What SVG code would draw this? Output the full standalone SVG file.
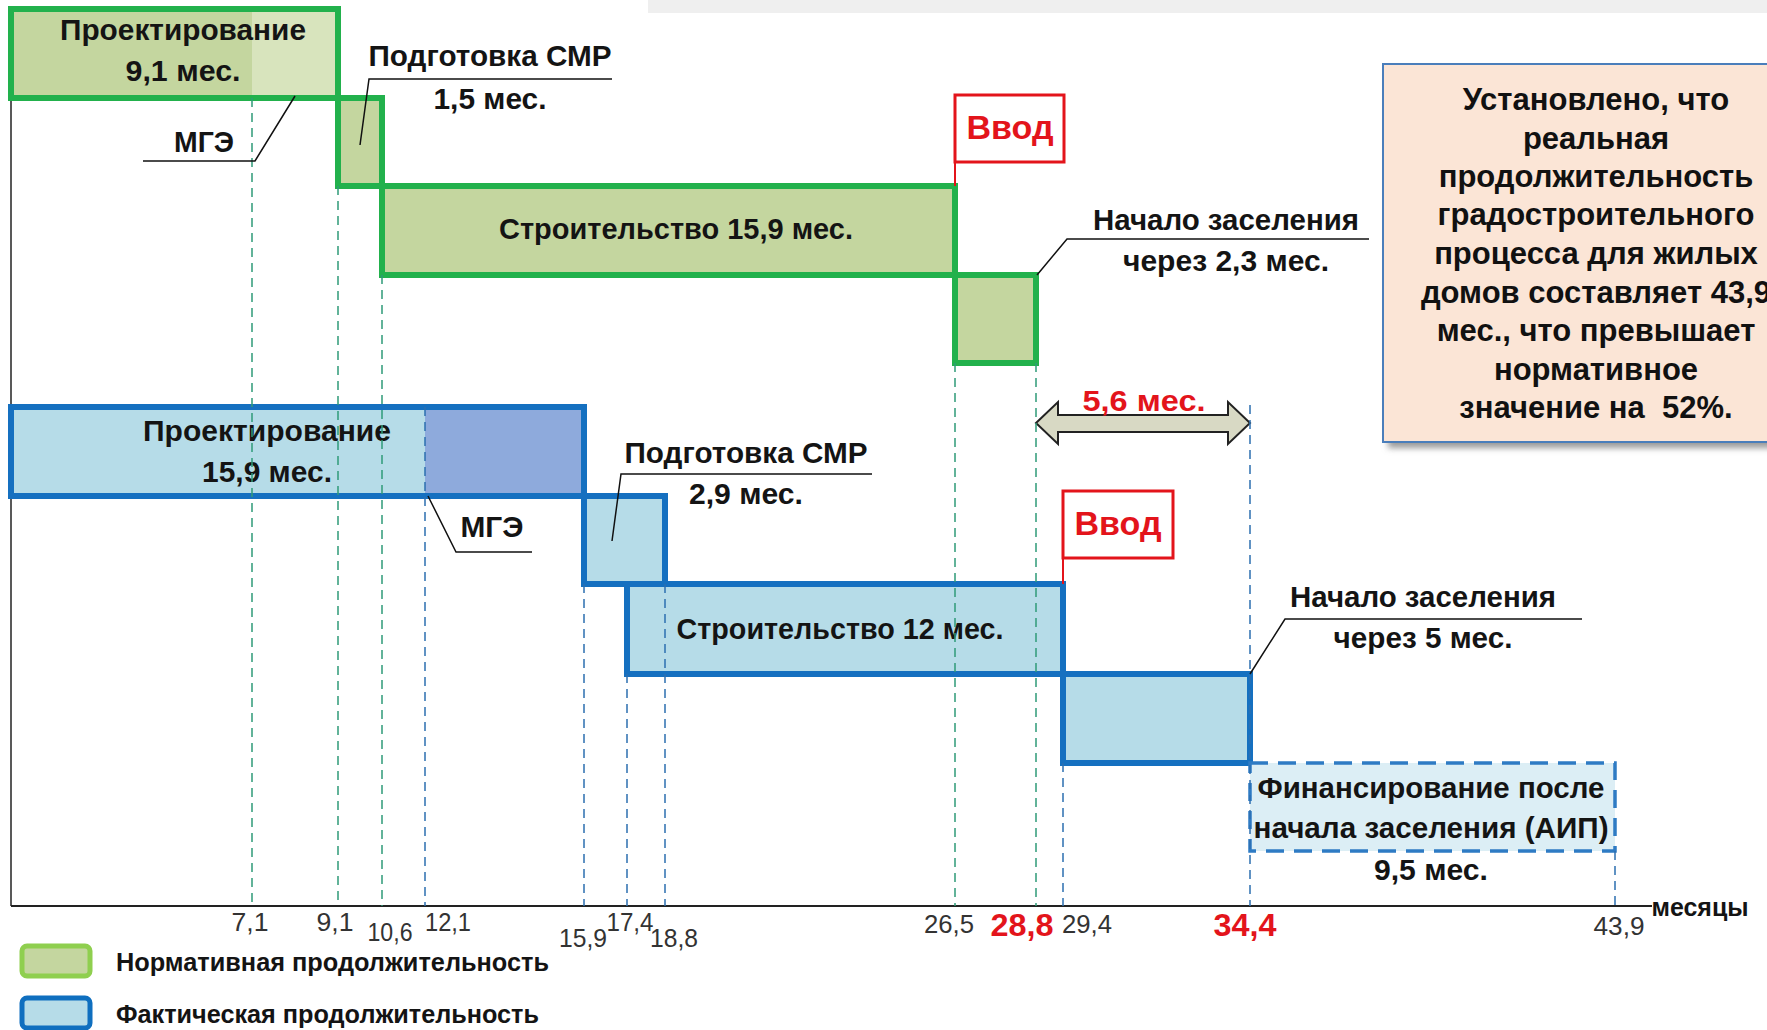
<svg xmlns="http://www.w3.org/2000/svg" width="1767" height="1030" viewBox="0 0 1767 1030">
<style>
.lb{font-family:"Liberation Sans",Arial,sans-serif;font-weight:bold;font-size:30px;fill:#141414;text-anchor:middle}
.red{fill:#e3141b}
.vv{font-size:34px}
.ax{font-family:"Liberation Sans",Arial,sans-serif;font-size:26px;fill:#333;text-anchor:middle}
.axr{font-family:"Liberation Sans",Arial,sans-serif;font-weight:bold;font-size:32px;fill:#e3141b;text-anchor:middle}
.info{font-family:"Liberation Sans",Arial,sans-serif;font-weight:bold;font-size:31px;fill:#111;text-anchor:middle}
.leg{font-family:"Liberation Sans",Arial,sans-serif;font-weight:bold;font-size:25px;fill:#141414}
.gf{fill:#c4d69f;stroke:none}
.gs{fill:none;stroke:#22b14c;stroke-width:6}
.bf{fill:#b6dce8;stroke:none}
.bs{fill:none;stroke:#1570c0;stroke-width:6}
.vb{fill:#fff;stroke:#e3141b;stroke-width:3}
.ld{fill:none;stroke:#111;stroke-width:1.5}
.dg{stroke:#2f9a78;stroke-width:1.5;stroke-dasharray:9 6}
.db{stroke:#2d6fb0;stroke-width:1.5;stroke-dasharray:9 6}
</style>
<defs>
<filter id="sh" x="-10%" y="-10%" width="130%" height="130%">
<feGaussianBlur stdDeviation="3"/>
</filter>
</defs>
<rect width="1767" height="1030" fill="#fff"/>
<g id="background">
<rect x="648" y="0" width="1119" height="13" fill="#efefef"/>
</g>
<g id="axis">
<line x1="11" y1="98" x2="11" y2="906" stroke="#222" stroke-width="1.5"/>
<line x1="11" y1="906" x2="1652" y2="906" stroke="#222" stroke-width="2"/>
<text class="ax" x="250" y="931" textLength="37" lengthAdjust="spacingAndGlyphs">7,1</text>
<text class="ax" x="335" y="931" textLength="37" lengthAdjust="spacingAndGlyphs">9,1</text>
<text class="ax" x="390" y="941" textLength="45" lengthAdjust="spacingAndGlyphs">10,6</text>
<text class="ax" x="448" y="931" textLength="46" lengthAdjust="spacingAndGlyphs">12,1</text>
<text class="ax" x="583" y="947" textLength="48" lengthAdjust="spacingAndGlyphs">15,9</text>
<text class="ax" x="630" y="931" textLength="47" lengthAdjust="spacingAndGlyphs">17,4</text>
<text class="ax" x="674" y="947" textLength="48" lengthAdjust="spacingAndGlyphs">18,8</text>
<text class="ax" x="949" y="933" textLength="50" lengthAdjust="spacingAndGlyphs">26,5</text>
<text class="axr" x="1022" y="936" textLength="63" lengthAdjust="spacingAndGlyphs">28,8</text>
<text class="ax" x="1087" y="933" textLength="50" lengthAdjust="spacingAndGlyphs">29,4</text>
<text class="axr" x="1245" y="936" textLength="63" lengthAdjust="spacingAndGlyphs">34,4</text>
<text class="ax" x="1619" y="935" textLength="51" lengthAdjust="spacingAndGlyphs">43,9</text>
<text class="leg" x="1700" y="916" text-anchor="middle" textLength="97" lengthAdjust="spacingAndGlyphs">месяцы</text>
</g>
<g id="norm-design">
<rect class="gf" x="11" y="9" width="327" height="89"/>
<rect x="252" y="9" width="86" height="89" fill="#d8e4bd"/>
<rect class="gs" x="11" y="9" width="327" height="89"/>
<text class="lb" x="183" y="40" textLength="246" lengthAdjust="spacingAndGlyphs">Проектирование</text>
<text class="lb" x="183" y="81" textLength="115" lengthAdjust="spacingAndGlyphs">9,1 мес.</text>
</g>
<g id="norm-mge">
<text class="lb" x="204" y="152" textLength="60" lengthAdjust="spacingAndGlyphs">МГЭ</text>
</g>
<g id="norm-prep">
<rect class="gf" x="338" y="98" width="44" height="88"/>
<rect class="gs" x="338" y="98" width="44" height="88"/>
<text class="lb" x="490" y="66" textLength="243" lengthAdjust="spacingAndGlyphs">Подготовка СМР</text>
<text class="lb" x="490" y="109" textLength="113" lengthAdjust="spacingAndGlyphs">1,5 мес.</text>
</g>
<g id="norm-build">
<rect class="gf" x="382" y="186" width="573" height="89"/>
<rect class="gs" x="382" y="186" width="573" height="89"/>
<text class="lb" x="676" y="239" textLength="354" lengthAdjust="spacingAndGlyphs">Строительство 15,9 мес.</text>
</g>
<g id="norm-settle">
<rect class="gf" x="955" y="275" width="81" height="88"/>
<rect class="gs" x="955" y="275" width="81" height="88"/>
<text class="lb" x="1226" y="230" textLength="266" lengthAdjust="spacingAndGlyphs">Начало заселения</text>
<text class="lb" x="1226" y="271" textLength="206" lengthAdjust="spacingAndGlyphs">через 2,3 мес.</text>
</g>
<g id="norm-vvod">
<rect class="vb" x="955" y="95" width="109" height="67"/>
<text class="lb red vv" x="1010" y="139" textLength="87" lengthAdjust="spacingAndGlyphs">Ввод</text>
</g>
<g id="fact-design">
<rect class="bf" x="11" y="407" width="573" height="89"/>
<rect x="425" y="407" width="159" height="89" fill="#8eaadc"/>
<rect class="bs" x="11" y="407" width="573" height="89"/>
<text class="lb" x="267" y="441" textLength="248" lengthAdjust="spacingAndGlyphs">Проектирование</text>
<text class="lb" x="267" y="482" textLength="130" lengthAdjust="spacingAndGlyphs">15,9 мес.</text>
</g>
<g id="fact-mge">
<text class="lb" x="492" y="537" textLength="63" lengthAdjust="spacingAndGlyphs">МГЭ</text>
</g>
<g id="fact-prep">
<rect class="bf" x="584" y="496" width="81" height="88"/>
<rect class="bs" x="584" y="496" width="81" height="88"/>
<text class="lb" x="746" y="463" textLength="243" lengthAdjust="spacingAndGlyphs">Подготовка СМР</text>
<text class="lb" x="746" y="504" textLength="114" lengthAdjust="spacingAndGlyphs">2,9 мес.</text>
</g>
<g id="fact-build">
<rect class="bf" x="627" y="584" width="436" height="90"/>
<rect class="bs" x="627" y="584" width="436" height="90"/>
<text class="lb" x="840" y="639" textLength="327" lengthAdjust="spacingAndGlyphs">Строительство 12 мес.</text>
</g>
<g id="fact-settle">
<rect class="bf" x="1063" y="674" width="187" height="89"/>
<rect class="bs" x="1063" y="674" width="187" height="89"/>
<text class="lb" x="1423" y="607" textLength="266" lengthAdjust="spacingAndGlyphs">Начало заселения</text>
<text class="lb" x="1423" y="648" textLength="179" lengthAdjust="spacingAndGlyphs">через 5 мес.</text>
</g>
<g id="fact-vvod">
<rect class="vb" x="1063" y="491" width="110" height="67"/>
<text class="lb red vv" x="1118" y="535" textLength="87" lengthAdjust="spacingAndGlyphs">Ввод</text>
</g>
<g id="fact-finance">
<rect x="1250" y="763" width="365" height="88" fill="#dceef5" stroke="#2e7bc4" stroke-width="3.5" stroke-dasharray="18 10"/>
<text class="lb" x="1431" y="798" textLength="347" lengthAdjust="spacingAndGlyphs">Финансирование после</text>
<text class="lb" x="1431" y="838" textLength="355" lengthAdjust="spacingAndGlyphs">начала заселения (АИП)</text>
<text class="lb" x="1431" y="880" textLength="114" lengthAdjust="spacingAndGlyphs">9,5 мес.</text>
</g>
<g id="gap-arrow">
<path d="M1036,423 L1058,402 L1058,415 L1228,415 L1228,402 L1250,423 L1228,444 L1228,432 L1058,432 L1058,444 Z" fill="#d8d9c4" stroke="#222" stroke-width="2"/>
<text class="lb red" x="1144" y="411" textLength="123" lengthAdjust="spacingAndGlyphs">5,6 мес.</text>
</g>
<g id="guides">
<line class="dg" x1="252" y1="98" x2="252" y2="906"/>
<line class="dg" x1="338" y1="186" x2="338" y2="906"/>
<line class="dg" x1="382" y1="275" x2="382" y2="906"/>
<line class="db" x1="425" y1="407" x2="425" y2="906"/>
<line class="db" x1="584" y1="584" x2="584" y2="906"/>
<line class="db" x1="627" y1="674" x2="627" y2="906"/>
<line class="db" x1="665" y1="584" x2="665" y2="906"/>
<line class="dg" x1="955" y1="363" x2="955" y2="906"/>
<line class="dg" x1="1036" y1="363" x2="1036" y2="906"/>
<line class="db" x1="1063" y1="763" x2="1063" y2="906"/>
<line class="db" x1="1250" y1="405" x2="1250" y2="906"/>
<line class="db" x1="1615" y1="851" x2="1615" y2="906"/>
</g>
<g id="connectors">
<polyline class="ld" points="295,96 255,161 143,161"/>
<polyline class="ld" points="360,145 369,79 612,79"/>
<polyline class="ld" points="1037,275 1067,239 1369,239"/>
<polyline class="ld" points="428,496 456,552 532,552"/>
<polyline class="ld" points="612,541 621,474 872,474"/>
<polyline class="ld" points="1250,674 1285,619 1582,619"/>
<line x1="955" y1="162" x2="955" y2="186" stroke="#e3141b" stroke-width="2"/>
<line x1="1063" y1="558" x2="1063" y2="584" stroke="#e3141b" stroke-width="2"/>
</g>
<g id="info">
<rect x="1388" y="70" width="400" height="378" fill="#9a9a9a" filter="url(#sh)"/>
<rect x="1383" y="64" width="400" height="378" fill="#fbe5d6" stroke="#4a7ebb" stroke-width="2"/>
<text class="info" x="1596" y="110">Установлено, что</text>
<text class="info" x="1596" y="149">реальная</text>
<text class="info" x="1596" y="187">продолжительность</text>
<text class="info" x="1596" y="225">градостроительного</text>
<text class="info" x="1596" y="264">процесса для жилых</text>
<text class="info" x="1596" y="303">домов составляет 43,9</text>
<text class="info" x="1596" y="341">мес., что превышает</text>
<text class="info" x="1596" y="380">нормативное</text>
<text class="info" x="1596" y="418">значение на&#160; 52%.</text>
</g>
<g id="legend">
<rect x="22" y="946" width="68" height="30" rx="5" fill="#c4d69f" stroke="#8fcf4f" stroke-width="5"/>
<text class="leg" x="116" y="971" textLength="433" lengthAdjust="spacingAndGlyphs">Нормативная продолжительность</text>
<rect x="22" y="998" width="68" height="30" rx="5" fill="#b6dce8" stroke="#0f6fbf" stroke-width="5"/>
<text class="leg" x="116" y="1023" textLength="423" lengthAdjust="spacingAndGlyphs">Фактическая продолжительность</text>
</g>
</svg>
